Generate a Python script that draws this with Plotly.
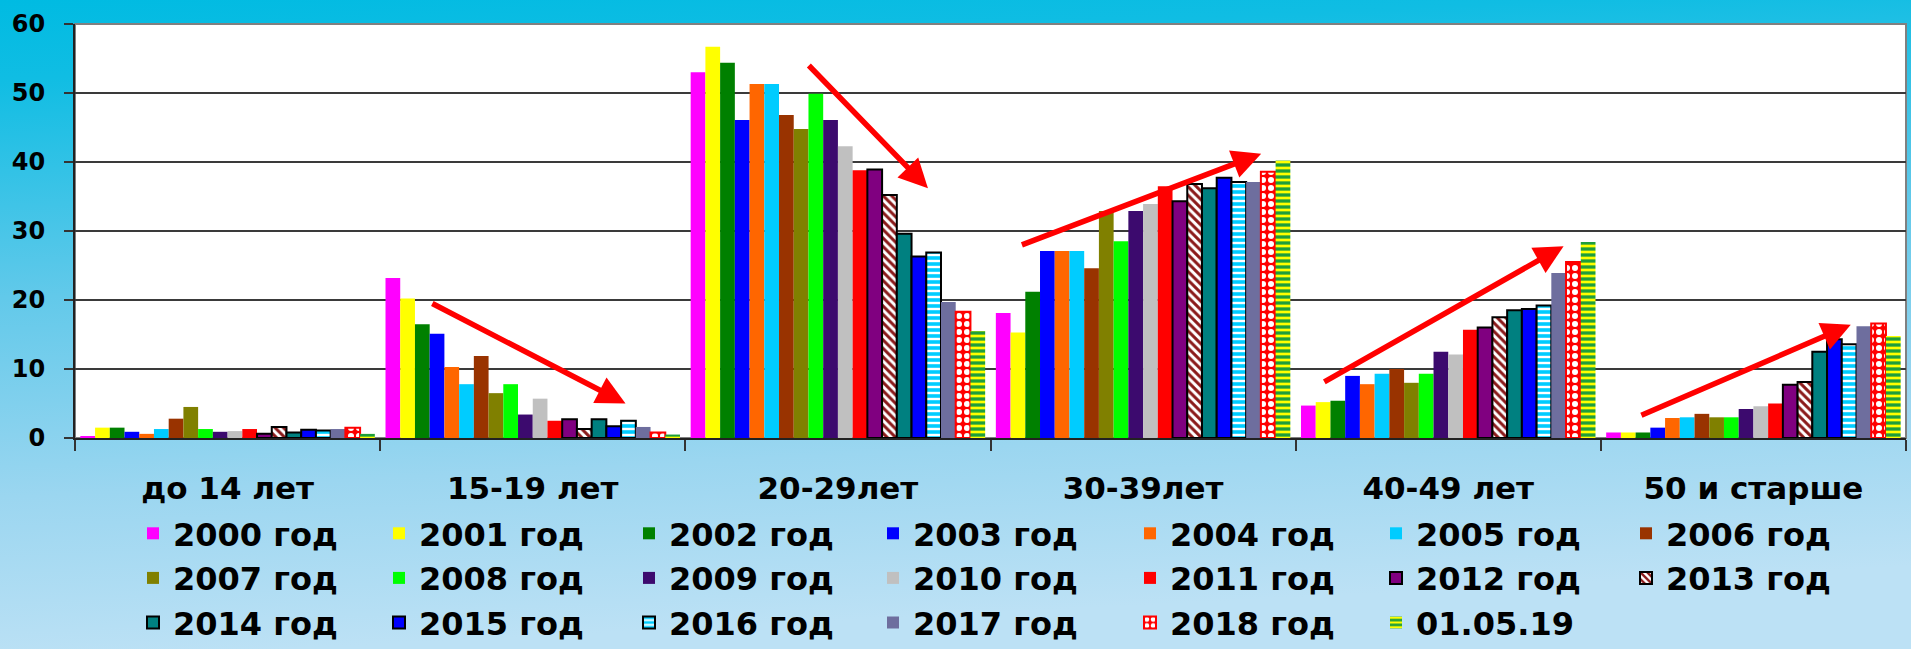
import base64
import plotly.graph_objects as go

categories = ["до 14 лет", "15-19 лет", "20-29лет", "30-39лет", "40-49 лет", "50 и старше"]

series_names = ["2000 год", "2001 год", "2002 год", "2003 год", "2004 год", "2005 год", "2006 год",
                "2007 год", "2008 год", "2009 год", "2010 год", "2011 год", "2012 год", "2013 год",
                "2014 год", "2015 год", "2016 год", "2017 год", "2018 год", "01.05.19"]

v2000 = [0.2, 23.2, 53.0, 18.1, 4.7, 0.8]
v2001 = [1.5, 20.2, 56.7, 15.3, 5.2, 0.8]
v2002 = [1.5, 16.5, 54.4, 21.2, 5.4, 0.8]
v2003 = [0.9, 15.1, 46.1, 27.1, 9.0, 1.5]
v2004 = [0.6, 10.3, 51.3, 27.1, 7.8, 2.9]
v2005 = [1.3, 7.8, 51.3, 27.1, 9.3, 3.0]
v2006 = [2.8, 11.9, 46.8, 24.6, 10.0, 3.5]
v2007 = [4.5, 6.5, 44.8, 32.9, 8.0, 3.0]
v2008 = [1.3, 7.8, 49.9, 28.5, 9.3, 3.0]
v2009 = [0.9, 3.4, 46.1, 32.9, 12.5, 4.2]
v2010 = [1.0, 5.7, 42.3, 33.9, 12.1, 4.6]
v2011 = [1.3, 2.5, 38.8, 36.5, 15.7, 5.0]
v2012 = [0.6, 2.7, 38.9, 34.3, 16.0, 7.7]
v2013 = [1.6, 1.3, 35.2, 36.8, 17.5, 8.1]
v2014 = [0.8, 2.7, 29.6, 36.2, 18.5, 12.5]
v2015 = [1.2, 1.7, 26.3, 37.7, 18.7, 14.3]
v2016 = [1.1, 2.5, 26.9, 37.1, 19.2, 13.6]
v2017 = [1.3, 1.6, 19.7, 37.1, 23.9, 16.2]
v2018 = [1.5, 0.8, 18.3, 38.6, 25.5, 16.6]
v2019 = [0.6, 0.5, 15.5, 40.2, 28.4, 14.8]

values = [v2000, v2001, v2002, v2003, v2004, v2005, v2006, v2007, v2008, v2009,
          v2010, v2011, v2012, v2013, v2014, v2015, v2016, v2017, v2018, v2019]

colors = ["#FF00FF", "#FFFF00", "#008000", "#0000FF", "#FF6600", "#00CCFF", "#993300",
          "#808000", "#00FF00", "#3C0A6E", "#C0C0C0", "#FF0000", "#800080", "#FFFFFF",
          "#008080", "#0000FF", "#00CCFF", "#6E6E9E", "#FF0000", "#FFFF00"]

# trend arrows: (tail category index, tail value, head category index, head value)
arrow_tail_x = [0.666, 1.900, 2.598, 3.589, 4.628]
arrow_tail_y = [19.6, 54.2, 27.9, 8.0, 3.2]
arrow_head_x = [1.304, 2.295, 3.387, 4.378, 5.319]
arrow_head_y = [5.0, 36.2, 41.2, 27.8, 16.4]

outlined = {"2012 год", "2013 год", "2014 год", "2015 год", "2016 год"}
patterns = {
    "2013 год": dict(shape="\\", fgcolor="#8B1A1A", bgcolor="#FFFFFF", size=6, solidity=0.5),
    "2016 год": dict(shape="-", fgcolor="#FFFFFF", bgcolor="#00CCFF", size=6, solidity=0.4),
    "2018 год": dict(shape=".", fgcolor="#FFFFFF", bgcolor="#FF0000", size=8, solidity=0.45),
    "01.05.19": dict(shape="-", fgcolor="#1E9E3C", bgcolor="#FFFF00", size=6, solidity=0.55),
}

W, H = 1911, 649
ml, mr, mt, mb = 75, 5, 24, 211
pw, ph = W - ml - mr, H - mt - mb

N_COLS = 7
legend_names = ["legend"] + [f"legend{i}" for i in range(2, N_COLS + 1)]
legend_left_px = [133, 379, 629, 873, 1130, 1376, 1626]

fig = go.Figure()
for i, (name, vals, col) in enumerate(zip(series_names, values, colors)):
    if name in outlined:
        line = dict(color="#000000", width=2)
    elif name == "2018 год":
        line = dict(color="#FF0000", width=2)
    else:
        line = dict(width=0)
    marker = dict(color=col, line=line)
    if name in patterns:
        marker["pattern"] = dict(fillmode="replace", **patterns[name])
    fig.add_trace(go.Bar(name=name, x=categories, y=vals, marker=marker,
                         legend=legend_names[i % N_COLS]))

for tx, ty, hx, hy in zip(arrow_tail_x, arrow_tail_y, arrow_head_x, arrow_head_y):
    fig.add_annotation(x=hx, y=hy, ax=tx, ay=ty, xref="x", yref="y", axref="x", ayref="y",
                       text="", showarrow=True, arrowhead=2, arrowsize=1.05,
                       arrowwidth=5.5, arrowcolor="#FF0000")

svg = ('<svg xmlns="http://www.w3.org/2000/svg" width="1911" height="649" viewBox="0 0 1911 649" '
       'preserveAspectRatio="none"><defs><linearGradient id="g" x1="0" y1="0" x2="0.15" y2="1">'
       '<stop offset="0" stop-color="#00BBE2"/><stop offset="0.12" stop-color="#10BDE3"/>'
       '<stop offset="0.45" stop-color="#62C9EA"/><stop offset="0.75" stop-color="#9BD6F0"/>'
       '<stop offset="1" stop-color="#BCE1F5"/></linearGradient></defs>'
       '<rect width="1911" height="649" fill="url(#g)"/></svg>')
src = "data:image/svg+xml;base64," + base64.b64encode(svg.encode()).decode()

fig.add_layout_image(source=src, xref="paper", yref="paper",
                     x=-ml / pw, y=1 + mt / ph, sizex=W / pw, sizey=H / ph,
                     xanchor="left", yanchor="top", sizing="stretch", layer="below")

fig.add_shape(type="rect", xref="x domain", yref="y domain", x0=0, x1=1, y0=0, y1=1,
              fillcolor="#FFFFFF", line=dict(color="#808080", width=2), layer="below")

legend_font = dict(family="DejaVu Sans", size=32, weight="bold", color="#000000")
legend_top = (mt + ph - 506) / ph  # paper y of pixel row 506
legends = {}
for ln, lx in zip(legend_names, legend_left_px):
    legends[ln] = dict(orientation="v", x=(lx - ml) / pw, y=legend_top,
                       xanchor="left", yanchor="top", font=legend_font,
                       bgcolor="rgba(0,0,0,0)", itemclick=False, tracegroupgap=0,
                       traceorder="normal")

fig.update_layout(
    width=W, height=H,
    margin=dict(l=ml, r=mr, t=mt, b=mb, pad=0, autoexpand=False),
    barmode="group", bargap=0.035, bargroupgap=0,
    paper_bgcolor="#8ED3EE", plot_bgcolor="rgba(0,0,0,0)",
    font=dict(family="DejaVu Sans", color="#000000"),
    showlegend=True,
    **legends,
)

fig.update_xaxes(type="category", showline=True, linecolor="#222222", linewidth=2,
                 ticks="outside", tickson="boundaries", ticklen=11, tickwidth=2, tickcolor="#333333",
                 tickfont=dict(family="DejaVu Sans", size=31, weight="bold", color="#000000"),
                 ticklabelstandoff=22, showgrid=False)
fig.update_yaxes(range=[0, 60], dtick=10, showline=True, linecolor="#222222", linewidth=2,
                 ticks="outside", ticklen=9, tickwidth=2, tickcolor="#333333",
                 tickfont=dict(family="DejaVu Sans", size=24, weight="bold", color="#000000"),
                 ticklabelstandoff=14,
                 showgrid=True, gridcolor="#3A3A3A", gridwidth=1.5, zeroline=False)

fig.write_html("out.html", config={"displayModeBar": False},
               post_script="document.body.style.margin='0';document.body.style.overflow='hidden';")
